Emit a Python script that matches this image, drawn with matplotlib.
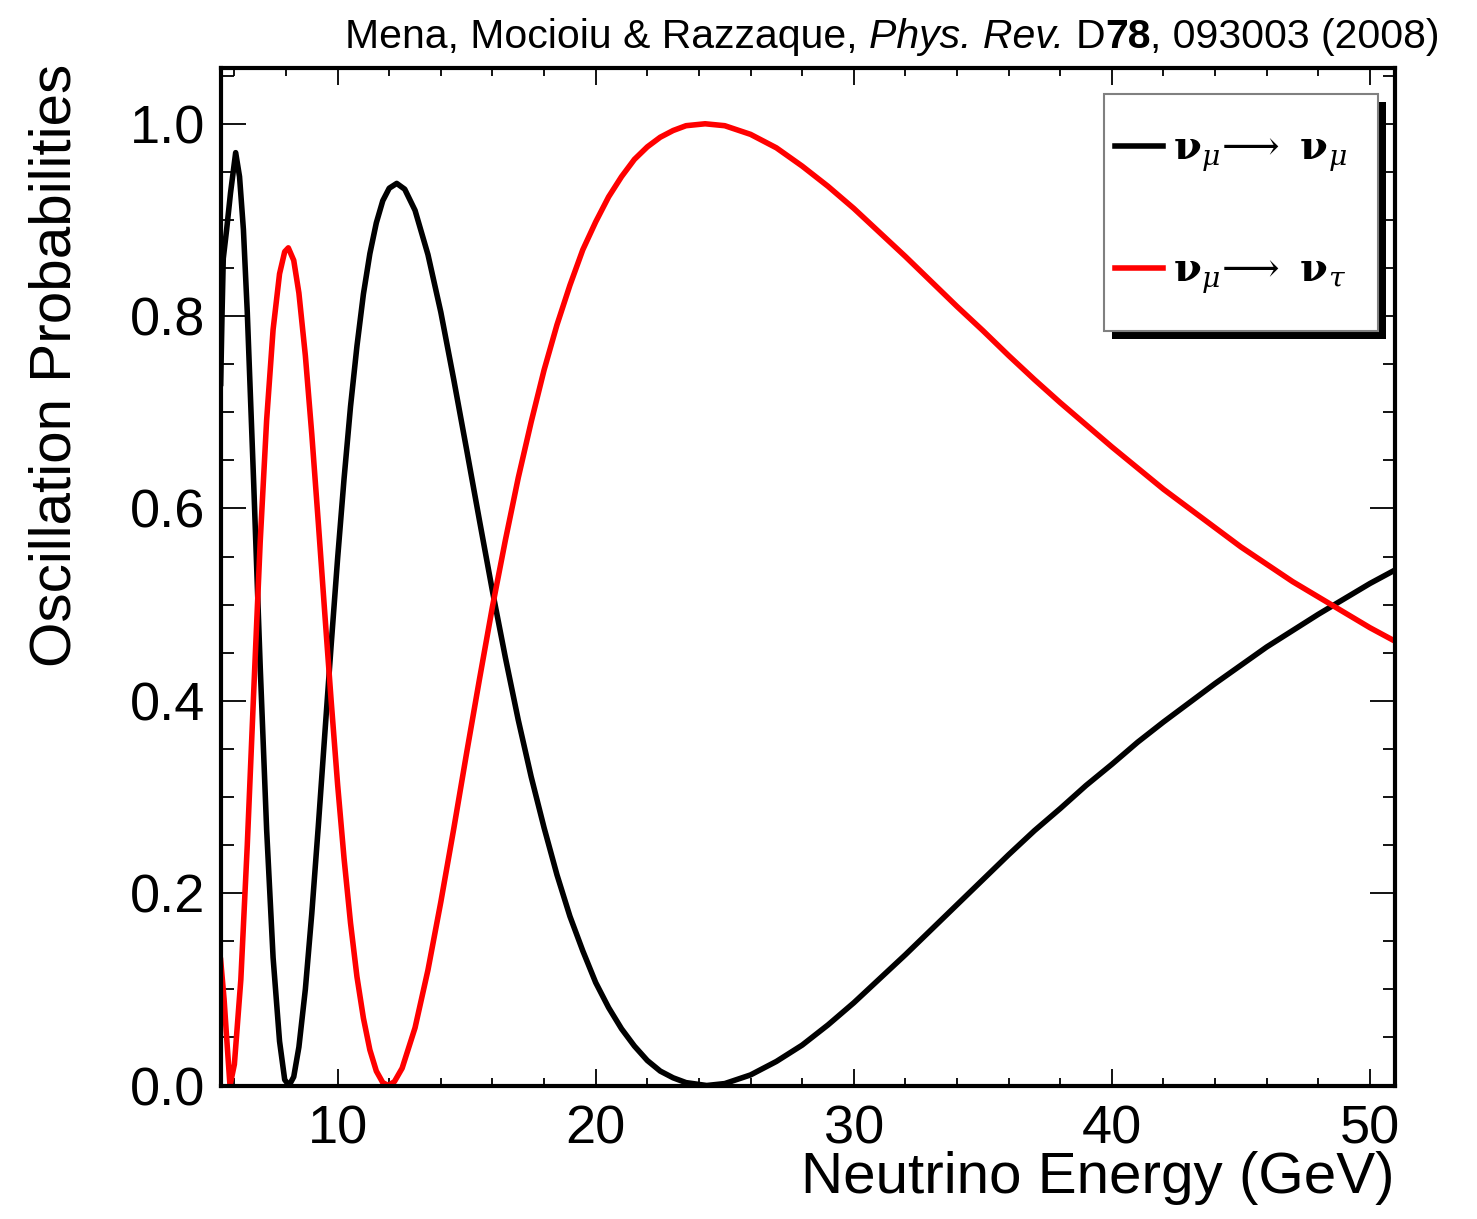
import matplotlib
matplotlib.use("Agg")
import matplotlib.pyplot as plt
from matplotlib.ticker import MultipleLocator
from matplotlib.patches import Rectangle

# ---------------- data ----------------
energy_mumu = [5.47, 5.52, 5.57, 5.7, 5.85, 6.05, 6.2, 6.35, 6.5, 6.75, 7.0, 7.25,
               7.5, 7.75, 7.95, 8.12, 8.3, 8.5, 8.75, 9.0, 9.25, 9.5, 9.75, 10.0, 10.25,
               10.5, 10.75, 11.0, 11.25, 11.5, 11.75, 12.0, 12.29, 12.6, 13, 13.5, 14,
               14.5, 15, 15.5, 16, 16.5, 17, 17.5, 18, 18.5, 19, 19.5, 20, 20.5, 21,
               21.5, 22, 22.5, 23, 23.5, 24.3, 25, 26, 27, 28, 29, 30, 31, 32, 33, 34,
               35, 36, 37, 38, 39, 40, 41, 42, 43, 44, 45, 46, 47, 48, 49, 50, 50.97]
prob_mumu = [0.73, 0.80, 0.86, 0.89, 0.928, 0.97, 0.945, 0.89, 0.804, 0.625, 0.436, 0.266,
             0.133, 0.046, 0.006, 0.0, 0.009, 0.040, 0.100, 0.179, 0.269, 0.364, 0.458,
             0.548, 0.631, 0.706, 0.769, 0.823, 0.865, 0.897, 0.920, 0.933, 0.938, 0.932,
             0.910, 0.864, 0.804, 0.734, 0.661, 0.587, 0.514, 0.445, 0.380, 0.321, 0.268,
             0.219, 0.176, 0.140, 0.107, 0.081, 0.059, 0.041, 0.026, 0.015, 0.008, 0.003,
             0.0, 0.002, 0.011, 0.025, 0.042, 0.063, 0.086, 0.111, 0.136, 0.162, 0.188,
             0.214, 0.240, 0.265, 0.288, 0.312, 0.334, 0.357, 0.378, 0.398, 0.418, 0.437,
             0.456, 0.473, 0.490, 0.506, 0.522, 0.536]

energy_mutau = [5.47, 5.6, 5.7, 5.83, 6.0, 6.25, 6.5, 6.75, 7.0, 7.25, 7.5, 7.75, 7.95,
                8.09, 8.3, 8.5, 8.75, 9.0, 9.25, 9.5, 9.75, 10.0, 10.25, 10.5, 10.75,
                11.0, 11.25, 11.5, 11.75, 11.96, 12.2, 12.5, 13, 13.5, 14, 14.5, 15,
                15.5, 16, 16.5, 17, 17.5, 18, 18.5, 19, 19.5, 20, 20.5, 21, 21.5, 22,
                22.5, 23, 23.5, 24.24, 25, 26, 27, 28, 29, 30, 31, 32, 33, 34, 35, 36,
                37, 38, 39, 40, 41, 42, 43, 44, 45, 46, 47, 48, 49, 50, 50.97]
prob_mutau = [0.13, 0.09, 0.05, 0.0, 0.022, 0.11, 0.25, 0.41, 0.565, 0.692, 0.786, 0.844,
              0.867, 0.871, 0.858, 0.824, 0.759, 0.677, 0.586, 0.492, 0.400, 0.313, 0.236,
              0.169, 0.113, 0.070, 0.037, 0.015, 0.003, 0.0, 0.004, 0.018, 0.060, 0.120,
              0.191, 0.267, 0.346, 0.423, 0.498, 0.567, 0.632, 0.690, 0.744, 0.791, 0.832,
              0.869, 0.898, 0.924, 0.945, 0.963, 0.976, 0.986, 0.993, 0.998, 1.0, 0.998,
              0.989, 0.975, 0.956, 0.935, 0.912, 0.887, 0.862, 0.836, 0.810, 0.785, 0.759,
              0.734, 0.710, 0.687, 0.664, 0.642, 0.620, 0.600, 0.580, 0.560, 0.542, 0.524,
              0.508, 0.492, 0.476, 0.462]

x_ticks = [10, 20, 30, 40, 50]
y_ticks = [0.0, 0.2, 0.4, 0.6, 0.8, 1.0]
y_ticklabels = ["0.0", "0.2", "0.4", "0.6", "0.8", "1.0"]
label_mumu = r"$\mathbf{\nu}_{\mu}\!\longrightarrow\ \mathbf{\nu}_{\mu}$"
label_mutau = r"$\mathbf{\nu}_{\mu}\!\longrightarrow\ \mathbf{\nu}_{\tau}$"
xlabel = "Neutrino Energy (GeV)"
ylabel = "Oscillation Probabilities"
# citation pieces: (text, style, weight, space before)
citation_parts = [("Mena, Mocioiu & Razzaque,", "normal", "normal", False),
                  ("Phys. Rev.", "italic", "normal", True),
                  ("D", "normal", "normal", True),
                  ("78", "normal", "bold", False),
                  (", 093003 (2008)", "normal", "normal", False)]

# ---------------- style ----------------
plt.rcParams["font.family"] = ["Liberation Sans", "DejaVu Sans"]
plt.rcParams["mathtext.fontset"] = "dejavuserif"

W, H = 1477, 1219
fig = plt.figure(figsize=(W / 100, H / 100), dpi=100)
ax_l, ax_r, ax_t, ax_b = 220.7, 1395.0, 68.0, 1085.5
ax = fig.add_axes([ax_l / W, 1 - ax_b / H, (ax_r - ax_l) / W, (ax_b - ax_t) / H])

ax.plot(energy_mumu, prob_mumu, color="black", lw=4.0, solid_joinstyle="round",
        label=label_mumu)
ax.plot(energy_mutau, prob_mutau, color="#ff0000", lw=4.0, solid_joinstyle="round",
        label=label_mutau)

ax.set_xlim(5.47, 50.97)
ax.set_ylim(0.0, 1.058)
ax.set_xticks(x_ticks)
ax.set_yticks(y_ticks)
ax.set_yticklabels(y_ticklabels)
ax.xaxis.set_minor_locator(MultipleLocator(2))
ax.yaxis.set_minor_locator(MultipleLocator(0.05))

ax.tick_params(which="both", direction="in", top=True, right=True, labelsize=39,
               colors="black", width=1.3)
ax.tick_params(axis="x", which="major", length=12, pad=14)
ax.tick_params(axis="x", which="minor", length=6)
ax.tick_params(axis="y", which="major", length=18, pad=11)
ax.tick_params(axis="y", which="minor", length=9)
for s in ax.spines.values():
    s.set_linewidth(3.0)

ax.set_xlabel(xlabel, fontsize=42, loc="right")
ax.xaxis.set_label_coords(1.0, -0.064)
ax.set_ylabel(ylabel, fontsize=42, loc="top")
ax.yaxis.set_label_coords(-0.118, 1.004)

# legend (ROOT-like box with a black shadow)
pw, ph = ax_r - ax_l, ax_b - ax_t
fx0, fx1, fy0, fy1 = 1104, 1378, 94, 331
fr = ((fx0 - ax_l) / pw, (ax_b - fy1) / ph, (fx1 - fx0) / pw, (fy1 - fy0) / ph)
ax.add_patch(Rectangle((fr[0] + 8 / pw, fr[1] - 8 / ph), fr[2], fr[3], transform=ax.transAxes,
                       facecolor="black", edgecolor="none", zorder=3.9, clip_on=False))
ax.add_patch(Rectangle((fr[0], fr[1]), fr[2], fr[3], transform=ax.transAxes,
                       facecolor="white", edgecolor="#808080", lw=1.5, zorder=4, clip_on=False))
leg = ax.legend(loc="center left", bbox_to_anchor=((1115 - ax_l) / pw, (ax_b - 213) / ph),
                frameon=False, prop={"size": 29, "math_fontfamily": "dejavuserif"},
                handlelength=1.2, handletextpad=0.25, labelspacing=1.95,
                borderpad=0, borderaxespad=0)
leg.set_zorder(5)

# citation line, built from styled pieces and right-aligned at x = 1440 px
renderer = fig.canvas.get_renderer()
cite_size = 29.5
def _width(s, style="normal", weight="normal"):
    t = fig.text(0, 0, s, fontsize=cite_size, style=style, weight=weight)
    w = t.get_window_extent(renderer).width
    t.remove()
    return w
space_w = _width("a a") - _width("aa")
widths = [_width(s, st, wt) for s, st, wt, _ in citation_parts]
total = sum(widths) + space_w * sum(1 for p in citation_parts if p[3])
x = 1440 - total
for (s, st, wt, sp), w in zip(citation_parts, widths):
    if sp:
        x += space_w
    fig.text(x / W, 1 - 48 / H, s, fontsize=cite_size, style=st, weight=wt,
             ha="left", va="baseline")
    x += w

fig.savefig("out.png", dpi=100)
